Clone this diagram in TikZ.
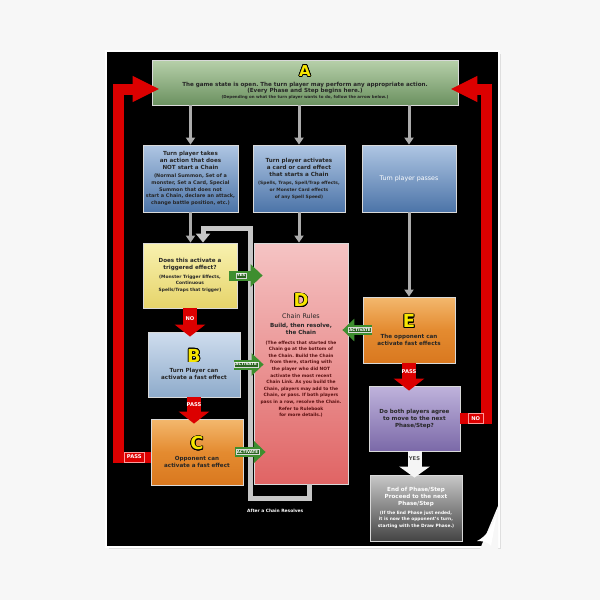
\documentclass[tikz,border=0pt]{standalone}
\usepackage{fontspec}
\setmainfont{DejaVu Sans}
\usepackage{contour}
\contourlength{0.7pt}
\usetikzlibrary{positioning}
\usetikzlibrary{arrows.meta}
\frenchspacing
\definecolor{pagegray}{HTML}{F7F7F7}
\definecolor{greenT}{HTML}{B7D0AA}
\definecolor{greenB}{HTML}{6B9160}
\definecolor{blueT}{HTML}{AFC6E3}
\definecolor{blueB}{HTML}{4C74A8}
\definecolor{yellowT}{HTML}{F8F1B0}
\definecolor{yellowB}{HTML}{E6D46A}
\definecolor{paleT}{HTML}{CFDDEE}
\definecolor{paleB}{HTML}{8EABCB}
\definecolor{orangeT}{HTML}{F3B86E}
\definecolor{orangeM}{HTML}{E48B30}
\definecolor{orangeB}{HTML}{D9781F}
\definecolor{pinkT}{HTML}{F5C4C4}
\definecolor{pinkB}{HTML}{E06464}
\definecolor{purpleT}{HTML}{BFB3DC}
\definecolor{purpleB}{HTML}{7B69A8}
\definecolor{endT}{HTML}{C8C8C8}
\definecolor{endB}{HTML}{444444}
\definecolor{alarmred}{HTML}{DC0000}
\definecolor{gogreen}{HTML}{3E8E2F}
\definecolor{letteryellow}{HTML}{F7E600}
\definecolor{dred}{HTML}{5A1010}
\newcommand{\bigletter}[2][18]{{\fontsize{#1}{#1}\selectfont\bfseries\textcolor{letteryellow}{\contour{black}{#2}}\par}\vspace{3.5pt}}
\newcommand{\titlefont}{\fontsize{5.6}{7}\selectfont\bfseries}
\newcommand{\notefont}{\fontsize{4.4}{6.6}\selectfont\bfseries}
\tikzset{
 box/.style = {%
    shape=rectangle,
    draw=white!70!gray,
    line width=0.8pt,
    inner sep=0pt,
    align=flush center,
    text=black!85},
 boxsize/.style 2 args = {text width=#1, minimum height=#2},
 greenbox/.style = {box, top color=greenT, bottom color=greenB},
 bluebox/.style = {box, top color=blueT, bottom color=blueB},
 yellowbox/.style = {box, top color=yellowT, bottom color=yellowB},
 palebox/.style = {box, top color=paleT, bottom color=paleB},
 orangebox/.style = {box, top color=orangeT, bottom color=orangeB, middle color=orangeM},
 pinkbox/.style = {box, top color=pinkT, bottom color=pinkB},
 purplebox/.style = {box, top color=purpleT, bottom color=purpleB},
 endbox/.style = {box, top color=endT, bottom color=endB},
 grayarrow/.style = {draw=gray!65, line width=3pt, -{Triangle[length=7pt,width=9pt]}},
 pipe/.style = {draw=gray!45, line width=5pt, line join=miter, -{Triangle[length=9pt,width=14pt]}},
 redarrow/.style = {draw=alarmred, line width=14pt, shorten >=-5pt, -{Triangle[length=12pt,width=30pt]}},
 bigred/.style = {draw=alarmred, line width=11pt, line join=miter, shorten >=-8pt, -{Triangle[length=27pt,width=24pt]}},
 whitearrow/.style = {draw=white!92!gray, line width=14pt, shorten >=-3pt, -{Triangle[length=11pt,width=30pt]}},
 goarrow/.style = {draw=gogreen, line width=10pt, -{Triangle[length=12pt,width=22pt]}},
 tag/.style = {font=\fontsize{4}{4}\selectfont\bfseries, text=white, inner sep=1pt},
 gotag/.style = {tag, fill=gogreen!70!black, draw=white!70!gray, line width=0.4pt},
 redtag/.style = {tag, font=\fontsize{5.2}{5.2}\selectfont\bfseries},
 redbox/.style = {redtag, fill=alarmred, draw=white!60!red, line width=0.4pt, inner xsep=3pt, minimum height=10pt},
}
\begin{document}
\begin{tikzpicture}[x=1pt, y=-1pt]
    \useasboundingbox (0,0) rectangle (600,600);
    \fill[pagegray] (0,0) rectangle (600,600);
    % poster
    \fill[gray!25] (109,54) rectangle (501,549);
    \fill[white] (105,50) rectangle (500,548);
    \fill[black] (107,52) rectangle (498,546);
    \fill[pagegray] (498,506) -- (498,549) -- (480,549) -- cycle;
    \fill[white] (498,508) .. controls (494,526) and (487,536) .. (477,541)
        .. controls (485,541) and (489,543) .. (491,546) -- cycle;

    % boxes
    \node[greenbox, boxsize={306pt}{45pt}] (A) at (305,82.5) {%
        \bigletter[15]{A}
        {\fontsize{5.6}{6.3}\selectfont\bfseries The game state is open. The turn player may perform any appropriate action.\\
        (Every Phase and Step begins here.)\par}
        {\fontsize{4}{6}\selectfont\bfseries (Depending on what the turn player wants to do, follow the arrow below.)\par}};
    \node[bluebox, boxsize={95pt}{67pt}] (T1) at (190.5,178.5) {%
        {\titlefont Turn player takes\\an action that does\\NOT start a Chain\par}\vspace{1.5pt}
        {\fontsize{4.9}{6.6}\selectfont\bfseries (Normal Summon, Set of a\\monster, Set a Card, Special\\Summon that does not\\start a Chain, declare an attack,\\change battle position, etc.)\par}};
    \node[bluebox, boxsize={92pt}{67pt}] (T2) at (299,178.5) {%
        {\titlefont Turn player activates\\a card or card effect\\that starts a Chain\par}\vspace{2pt}
        {\notefont (Spells, Traps, Spell/Trap effects,\\or Monster Card effects\\of any Spell Speed)\par}};
    \node[bluebox, boxsize={94pt}{67pt}] (T3) at (409,178.5) {%
        {\fontsize{6.3}{7}\selectfont\color{white} Turn player passes\par}};
    \node[yellowbox, boxsize={94pt}{65pt}] (Trig) at (190,275.5) {%
        {\titlefont Does this activate a\\triggered effect?\par}\vspace{2pt}
        {\notefont (Monster Trigger Effects,\\Continuous\\Spells/Traps that trigger)\par}};
    \node[pinkbox, boxsize={94pt}{241pt}] (D) at (301,363.5) {%
        \bigletter{D}
        {\fontsize{6.4}{8}\selectfont Chain Rules\par}\vspace{2pt}
        {\titlefont Build, then resolve,\\the Chain\par}\vspace{3pt}
        {\notefont\color{dred} (The effects that started the\\Chain go at the bottom of\\the Chain. Build the Chain\\from there, starting with\\the player who did NOT\\activate the most recent\\Chain Link. As you build the\\Chain, players may add to the\\Chain, or pass. If both players\\pass in a row, resolve the Chain.\\Refer to Rulebook\\for more details.)\par}
        \vspace{16pt}};
    \node[palebox, boxsize={92pt}{65pt}] (B) at (194,364.5) {%
        \bigletter{B}
        {\titlefont Turn Player can\\activate a fast effect\par}};
    \node[orangebox, boxsize={92pt}{66pt}] (C) at (197,452) {%
        \bigletter{C}
        {\titlefont Opponent can\\activate a fast effect\par}};
    \node[orangebox, boxsize={92pt}{66pt}] (E) at (409,330) {%
        \bigletter{E}
        {\titlefont The opponent can\\activate fast effects\par}};
    \node[purplebox, boxsize={91pt}{65pt}] (P) at (414.5,418.5) {%
        {\titlefont Do both players agree\\to move to the next\\Phase/Step?\par}};
    \node[endbox, boxsize={92pt}{66pt}] (End) at (416,508) {%
        {\titlefont\color{white} End of Phase/Step\\Proceed to the next\\Phase/Step\par}\vspace{2pt}
        {\notefont\color{white} (If the End Phase just ended,\\it is now the opponent's turn,\\starting with the Draw Phase.)\par}};

    % gray arrows
    \foreach \t in {T1,T2,T3}
        \draw[grayarrow] (A.south -| \t.north) -- (\t.north);
    \draw[grayarrow] (T1.south) -- (T1.south |- Trig.north);
    \draw[grayarrow] (T2.south) -- (T2.south |- D.north);
    \draw[grayarrow] (T3.south) -- (T3.south |- E.north);

    % after a chain resolves
    \coordinate (lb) at (250,498);
    \coordinate (lt) at (250,228);
    \draw[pipe] ([xshift=8pt]D.south) |- (lb) -- (lt) -| ([xshift=13pt]Trig.north);
    \node[anchor=west, font=\fontsize{4.4}{4.4}\selectfont\bfseries, text=white, inner sep=0pt] (after) at (247,511) {After a Chain Resolves};

    % red arrows
    \draw[redarrow] (Trig.south) -- (Trig.south |- B.north) node[pos=0.42, redtag] {NO};
    \draw[redarrow] (B.south) -- (B.south |- C.north) node[pos=0.36, redtag] {PASS};
    \draw[redarrow] (E.south) -- (E.south |- P.north) node[pos=0.35, redtag] {PASS};
    \draw[whitearrow] (P.south) -- (P.south |- End.north) node[pos=0.33, redtag, text=black!70] {YES};
    \coordinate (lc) at (118,89);
    \coordinate (rc) at (486,89);
    \draw[bigred] ([yshift=-5pt]C.west) -| (lc) node[pos=0.25, redbox] {PASS} -- (lc -| A.west);
    \draw[bigred] (P.east) -| (rc) node[pos=0.3, redbox] {NO} -- (rc -| A.east);

    % green arrows
    \draw[goarrow] ([xshift=-8pt]Trig.east) -- ([xshift=9pt]Trig.east -| D.west) node[pos=0.35, gotag] {YES};
    \draw[goarrow] ([xshift=-6pt]B.east) -- ([xshift=10pt]B.east -| D.west) node[pos=0.4, gotag] {ACTIVATE};
    \draw[goarrow] ([xshift=-8pt]C.east) -- ([xshift=12pt]C.east -| D.west) node[pos=0.4, gotag] {ACTIVATE};
    \draw[goarrow] ([xshift=9pt]E.west) -- ([xshift=-6pt]E.west -| D.east) node[pos=0.4, gotag] {ACTIVATE};
\end{tikzpicture}
\end{document}
